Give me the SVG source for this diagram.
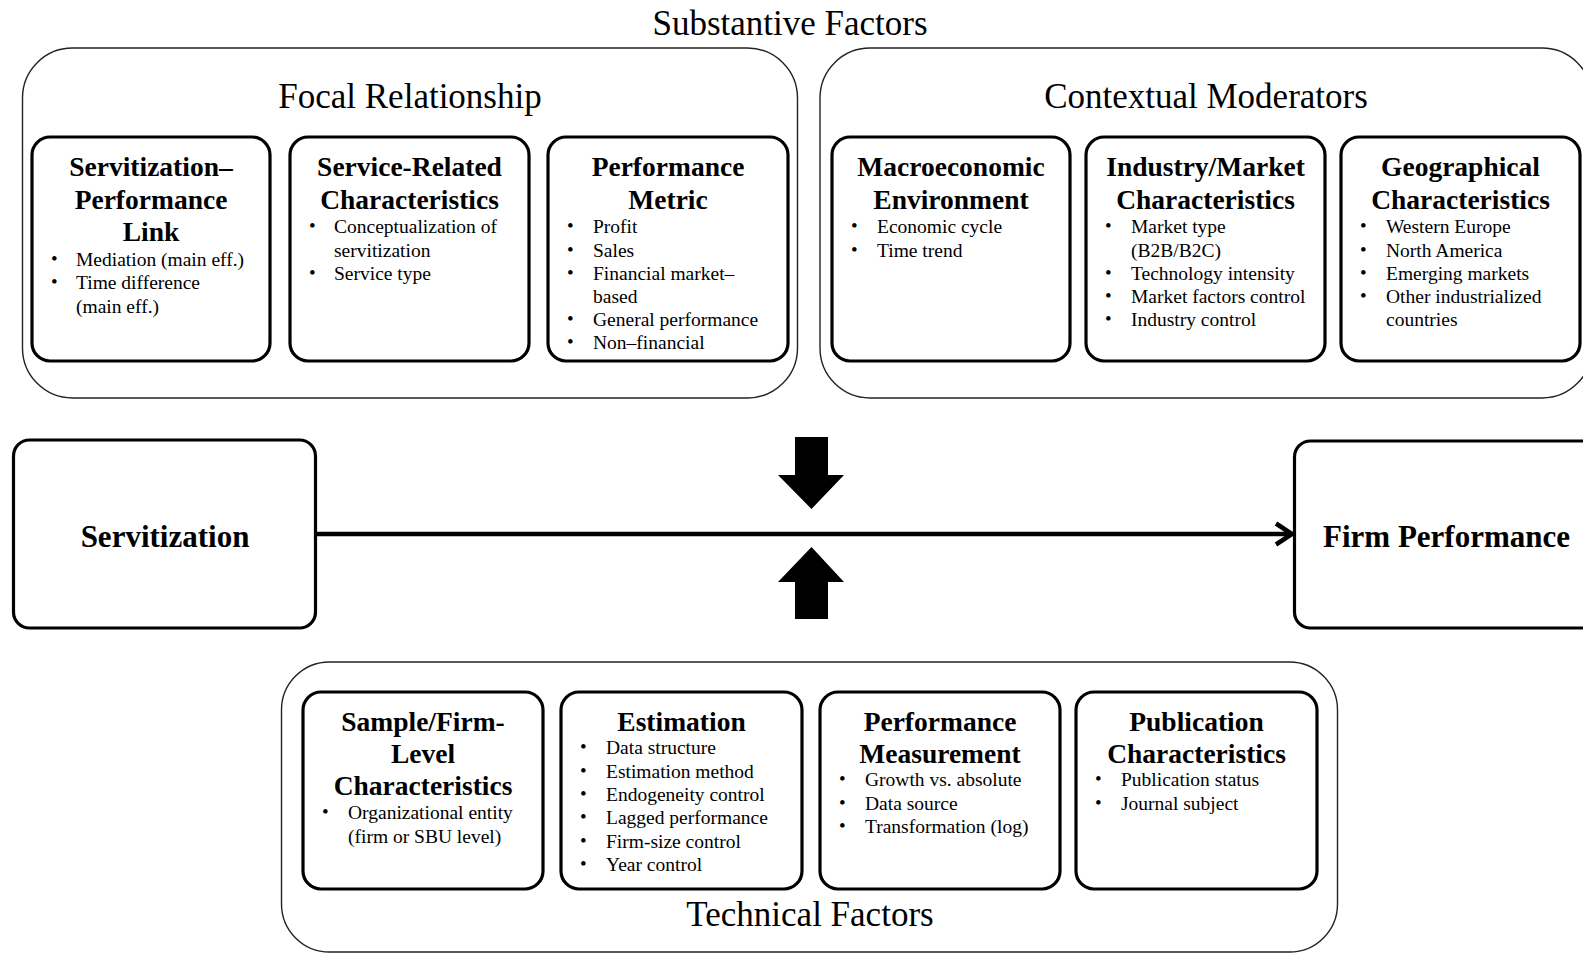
<svg xmlns="http://www.w3.org/2000/svg" width="1583" height="954" viewBox="0 0 1583 954">
  <style>
    .group { fill: none; stroke: #222; stroke-width: 1.4; }
    .box { fill: #fff; stroke: #000; stroke-width: 3.2; }
    .head { font-family: "Liberation Serif", "Times New Roman", serif; font-size: 35px; fill: #000; text-anchor: middle; }
    .title { font-family: "Liberation Serif", "Times New Roman", serif; font-size: 27.5px; font-weight: bold; fill: #000; text-anchor: middle; }
    .big { font-family: "Liberation Serif", "Times New Roman", serif; font-size: 31px; font-weight: bold; fill: #000; }
    .item { font-family: "Liberation Serif", "Times New Roman", serif; font-size: 19.5px; fill: #000; }
    .dot { font-family: "Liberation Serif", "Times New Roman", serif; font-size: 19px; fill: #000; }
    .link { fill: none; stroke: #000; stroke-width: 4.5; }
    .block { fill: #000; stroke: none; }
  </style>

  <rect width="1583" height="954" fill="#fff"/>

  <!-- Group frames -->
  <g id="substantive-factors">
    <text class="head" x="790" y="35">Substantive Factors</text>
    <g id="focal-relationship">
      <rect class="group" x="22.5" y="48" width="775" height="350" rx="50"/>
      <text class="head" x="410" y="108">Focal Relationship</text>
    </g>
    <g id="contextual-moderators">
      <rect class="group" x="820" y="48" width="772" height="350" rx="50"/>
      <text class="head" x="1206" y="108">Contextual Moderators</text>
    </g>
  </g>
  <g id="technical-factors">
    <rect class="group" x="281.5" y="662" width="1056" height="290" rx="48"/>
    <text class="head" x="810" y="926">Technical Factors</text>
  </g>

  <!-- Focal relationship boxes -->
  <g id="servitization-performance-link">
    <rect class="box" x="32" y="137" width="238" height="224" rx="18"/>
    <text class="title" x="151" y="176">Servitization–</text>
    <text class="title" x="151" y="209">Performance</text>
    <text class="title" x="151" y="241">Link</text>
    <text class="dot" x="51" y="265">•</text><text class="item" x="76" y="266">Mediation (main eff.)</text>
    <text class="dot" x="51" y="288">•</text><text class="item" x="76" y="289">Time difference</text>
    <text class="item" x="76" y="313">(main eff.)</text>
  </g>
  <g id="service-related-characteristics">
    <rect class="box" x="290" y="137" width="239" height="224" rx="18"/>
    <text class="title" x="409.5" y="176">Service-Related</text>
    <text class="title" x="409.5" y="209">Characteristics</text>
    <text class="dot" x="309" y="232">•</text><text class="item" x="334" y="233">Conceptualization of</text>
    <text class="item" x="334" y="256.5">servitization</text>
    <text class="dot" x="309" y="279">•</text><text class="item" x="334" y="280">Service type</text>
  </g>
  <g id="performance-metric">
    <rect class="box" x="548" y="137" width="240" height="224" rx="18"/>
    <text class="title" x="668" y="176">Performance</text>
    <text class="title" x="668" y="209">Metric</text>
    <text class="dot" x="567" y="232">•</text><text class="item" x="593" y="233">Profit</text>
    <text class="dot" x="567" y="255.5">•</text><text class="item" x="593" y="256.5">Sales</text>
    <text class="dot" x="567" y="279">•</text><text class="item" x="593" y="280">Financial market–</text>
    <text class="item" x="593" y="303">based</text>
    <text class="dot" x="567" y="325">•</text><text class="item" x="593" y="326">General performance</text>
    <text class="dot" x="567" y="348">•</text><text class="item" x="593" y="349">Non–financial</text>
  </g>

  <!-- Contextual moderator boxes -->
  <g id="macroeconomic-environment">
    <rect class="box" x="832" y="137" width="238" height="224" rx="18"/>
    <text class="title" x="951" y="176">Macroeconomic</text>
    <text class="title" x="951" y="209">Environment</text>
    <text class="dot" x="851" y="232">•</text><text class="item" x="877" y="233">Economic cycle</text>
    <text class="dot" x="851" y="255.5">•</text><text class="item" x="877" y="256.5">Time trend</text>
  </g>
  <g id="industry-market-characteristics">
    <rect class="box" x="1086" y="137" width="239" height="224" rx="18"/>
    <text class="title" x="1205.5" y="176">Industry/Market</text>
    <text class="title" x="1205.5" y="209">Characteristics</text>
    <text class="dot" x="1105" y="232">•</text><text class="item" x="1131" y="233">Market type</text>
    <text class="item" x="1131" y="256.5">(B2B/B2C)</text>
    <text class="dot" x="1105" y="279">•</text><text class="item" x="1131" y="280">Technology intensity</text>
    <text class="dot" x="1105" y="302">•</text><text class="item" x="1131" y="303">Market factors control</text>
    <text class="dot" x="1105" y="325">•</text><text class="item" x="1131" y="326">Industry control</text>
  </g>
  <g id="geographical-characteristics">
    <rect class="box" x="1341" y="137" width="239" height="224" rx="18"/>
    <text class="title" x="1460.5" y="176">Geographical</text>
    <text class="title" x="1460.5" y="209">Characteristics</text>
    <text class="dot" x="1360" y="232">•</text><text class="item" x="1386" y="233">Western Europe</text>
    <text class="dot" x="1360" y="255.5">•</text><text class="item" x="1386" y="256.5">North America</text>
    <text class="dot" x="1360" y="279">•</text><text class="item" x="1386" y="280">Emerging markets</text>
    <text class="dot" x="1360" y="302">•</text><text class="item" x="1386" y="303">Other industrialized</text>
    <text class="item" x="1386" y="326">countries</text>
  </g>

  <!-- Main relationship -->
  <g id="servitization">
    <rect class="box" x="13.5" y="440" width="302" height="188" rx="16"/>
    <text class="big" x="165" y="547" text-anchor="middle">Servitization</text>
  </g>
  <g id="firm-performance">
    <rect class="box" x="1294.5" y="441" width="320" height="187" rx="16"/>
    <text class="big" x="1323" y="547">Firm Performance</text>
  </g>

  <!-- Technical factor boxes -->
  <g id="sample-firm-level-characteristics">
    <rect class="box" x="303" y="692" width="240" height="197" rx="18"/>
    <text class="title" x="423" y="731">Sample/Firm-</text>
    <text class="title" x="423" y="763">Level</text>
    <text class="title" x="423" y="795">Characteristics</text>
    <text class="dot" x="322" y="818">•</text><text class="item" x="348" y="819">Organizational entity</text>
    <text class="item" x="348" y="843">(firm or SBU level)</text>
  </g>
  <g id="estimation">
    <rect class="box" x="561" y="692" width="241" height="197" rx="18"/>
    <text class="title" x="681.5" y="731">Estimation</text>
    <text class="dot" x="580" y="753">•</text><text class="item" x="606" y="754">Data structure</text>
    <text class="dot" x="580" y="776.5">•</text><text class="item" x="606" y="777.5">Estimation method</text>
    <text class="dot" x="580" y="800">•</text><text class="item" x="606" y="801">Endogeneity control</text>
    <text class="dot" x="580" y="823">•</text><text class="item" x="606" y="824">Lagged performance</text>
    <text class="dot" x="580" y="846.5">•</text><text class="item" x="606" y="847.5">Firm-size control</text>
    <text class="dot" x="580" y="870">•</text><text class="item" x="606" y="871">Year control</text>
  </g>
  <g id="performance-measurement">
    <rect class="box" x="820" y="692" width="240" height="197" rx="18"/>
    <text class="title" x="940" y="731">Performance</text>
    <text class="title" x="940" y="763">Measurement</text>
    <text class="dot" x="839" y="785">•</text><text class="item" x="865" y="786">Growth vs. absolute</text>
    <text class="dot" x="839" y="808.5">•</text><text class="item" x="865" y="809.5">Data source</text>
    <text class="dot" x="839" y="832">•</text><text class="item" x="865" y="833">Transformation (log)</text>
  </g>
  <g id="publication-characteristics">
    <rect class="box" x="1076" y="692" width="241" height="197" rx="18"/>
    <text class="title" x="1196.5" y="731">Publication</text>
    <text class="title" x="1196.5" y="763">Characteristics</text>
    <text class="dot" x="1095" y="785">•</text><text class="item" x="1121" y="786">Publication status</text>
    <text class="dot" x="1095" y="808.5">•</text><text class="item" x="1121" y="809.5">Journal subject</text>
  </g>

  <!-- Connectors -->
  <g id="connectors">
    <line class="link" x1="315" y1="534" x2="1291" y2="534"/>
    <polyline class="link" points="1276,523.5 1292,534 1276,544.5" stroke-width="3.6"/>
    <polygon class="block" points="795,437 828,437 828,475 844,475 811.5,509 778,475 795,475"/>
    <polygon class="block" points="811.5,547 844,582 828,582 828,619 795,619 795,582 778,582"/>
  </g>
</svg>
